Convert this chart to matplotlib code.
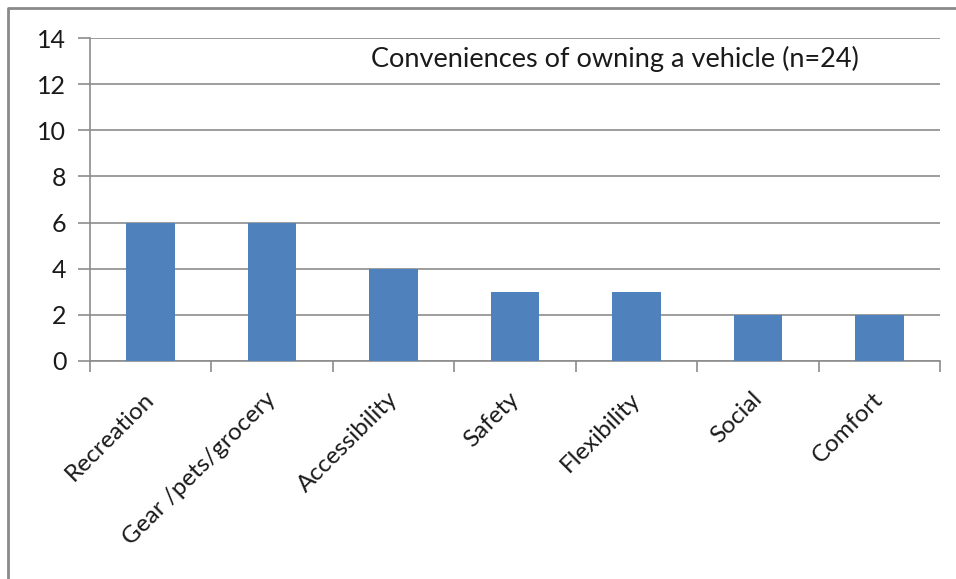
import matplotlib.pyplot as plt
import matplotlib.transforms as mtransforms
from matplotlib.lines import Line2D

plt.rcParams['font.family'] = ['Lato', 'DejaVu Sans']

categories = ['Recreation', 'Gear /pets/grocery', 'Accessibility', 'Safety',
              'Flexibility', 'Social', 'Comfort']
counts = [6, 6, 4, 3, 3, 2, 2]
yticks = [0, 2, 4, 6, 8, 10, 12, 14]
title = 'Conveniences of owning a vehicle (n=24)'

W, H = 956, 579
fig = plt.figure(figsize=(W / 100, H / 100), dpi=100)
ax = fig.add_axes([90 / W, 1 - 361 / H, 850 / W, 323 / H])

grid_col = '#8c8c8c'
txt_col = '#1a1a1a'
x = range(len(categories))
ax.bar(x, counts, width=0.4, color='#4f81bd', zorder=3)

ax.set_xlim(-0.5, len(categories) - 0.5)
ax.set_ylim(0, 14)
ax.set_yticks(yticks)
ax.yaxis.grid(True, color=grid_col, linewidth=1.2)
ax.set_axisbelow(True)
for s in ['top', 'right']:
    ax.spines[s].set_visible(False)
for s in ['left', 'bottom']:
    ax.spines[s].set_color(grid_col)
    ax.spines[s].set_linewidth(1.2)

# category ticks sit on the boundaries between bars
ax.set_xticks([i - 0.5 for i in range(len(categories) + 1)], minor=True)
ax.set_xticks(list(x))
ax.tick_params(axis='x', which='major', length=0, pad=0)
ax.tick_params(axis='x', which='minor', length=8, color=grid_col, width=1.2)
ax.tick_params(axis='y', length=9, color=grid_col, width=1.2, labelsize=18,
               pad=8, labelcolor=txt_col)
ax.set_xticklabels(categories, rotation=45, ha='right', va='top',
                   rotation_mode='anchor', fontsize=17.5, color=txt_col)
shift = mtransforms.ScaledTranslation(-7 / 100, 0, fig.dpi_scale_trans)
for lbl in ax.get_xticklabels():
    lbl.set_y(-0.085)
    lbl.set_transform(lbl.get_transform() + shift)

ax.text(0.618, 0.935, title, transform=ax.transAxes, ha='center', va='center',
        fontsize=19.5, color=txt_col)

# outer chart frame (top and left edges visible)
fig.add_artist(Line2D([8 / W, 8 / W, 1], [0, 1 - 8 / H, 1 - 8 / H],
                      transform=fig.transFigure, color='#8a8a8a', linewidth=2))

fig.savefig('out.png', dpi=100, facecolor='white')
